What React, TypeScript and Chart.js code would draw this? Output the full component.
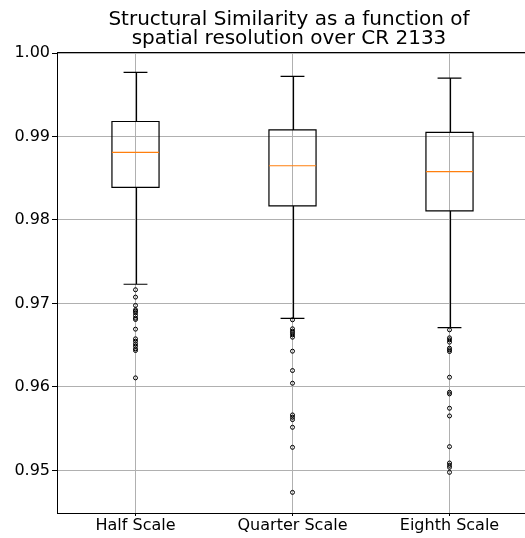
import React, { useEffect, useRef } from "react";
import { Chart, registerables } from "chart.js";

Chart.register(...registerables);

const categories = ["Half Scale", "Quarter Scale", "Eighth Scale"];
const titleLines = ["Structural Similarity as a function of", "spatial resolution over CR 2133"];
const yTicks = [0.95, 0.96, 0.97, 0.98, 0.99, 1.0];

const whiskerHigh = [0.9977, 0.9972, 0.997];
const q3 = [0.9918, 0.9908, 0.9905];
const median = [0.9881, 0.9865, 0.9858];
const q1 = [0.9839, 0.9817, 0.9811];
const whiskerLow = [0.9723, 0.9682, 0.9671];

const outliersHalf = [
  0.97164, 0.97076, 0.96976, 0.96924, 0.96908, 0.96888, 0.96856, 0.96824, 0.96808,
  0.96692, 0.96576, 0.96548, 0.96516, 0.96488, 0.96456, 0.96436, 0.96108,
];
const outliersQuarter = [
  0.96804, 0.96696, 0.96668, 0.96648, 0.96624, 0.96596, 0.96428, 0.96196, 0.96044,
  0.95664, 0.95636, 0.95608, 0.95516, 0.95276, 0.94736,
];
const outliersEighth = [
  0.96684, 0.96588, 0.96564, 0.96536, 0.96464, 0.96444, 0.96424, 0.96116, 0.95936,
  0.95916, 0.95744, 0.95652, 0.95284, 0.95088, 0.9506, 0.95036, 0.94976,
];
const outliers = [outliersHalf, outliersQuarter, outliersEighth];

const FONT = "'DejaVu Sans', sans-serif";

const boxPlugin = {
  id: "boxPlugin",
  beforeDatasetsDraw(chart: any) {
    const { ctx, scales } = chart;
    const xs = scales.x;
    const ys = scales.y;
    const boxHalf = 0.15;
    const capHalf = 0.076;
    ctx.save();
    ctx.lineWidth = 1.2;
    for (let i = 0; i < categories.length; i++) {
      const pos = i + 1;
      const xc = Math.round(xs.getPixelForValue(pos)) + 0.5;
      const xl = xs.getPixelForValue(pos - boxHalf);
      const xr = xs.getPixelForValue(pos + boxHalf);
      const cl = xs.getPixelForValue(pos - capHalf);
      const cr = xs.getPixelForValue(pos + capHalf);
      const yq1 = ys.getPixelForValue(q1[i]);
      const yq3 = ys.getPixelForValue(q3[i]);
      const ymed = ys.getPixelForValue(median[i]);
      const ylo = ys.getPixelForValue(whiskerLow[i]);
      const yhi = ys.getPixelForValue(whiskerHigh[i]);
      ctx.strokeStyle = "#000";
      ctx.beginPath();
      ctx.rect(xl, yq3, xr - xl, yq1 - yq3);
      ctx.moveTo(xc, yq3);
      ctx.lineTo(xc, yhi);
      ctx.moveTo(xc, yq1);
      ctx.lineTo(xc, ylo);
      ctx.moveTo(cl, yhi);
      ctx.lineTo(cr, yhi);
      ctx.moveTo(cl, ylo);
      ctx.lineTo(cr, ylo);
      ctx.stroke();
      ctx.strokeStyle = "#ff7f0e";
      ctx.beginPath();
      ctx.moveTo(xl, ymed);
      ctx.lineTo(xr, ymed);
      ctx.stroke();
    }
    ctx.restore();
  },
  afterDraw(chart: any) {
    const { ctx, chartArea } = chart;
    ctx.save();
    ctx.strokeStyle = "#000";
    ctx.lineWidth = 1;
    ctx.beginPath();
    ctx.moveTo(chartArea.left, Math.round(chartArea.top) + 0.5);
    ctx.lineTo(chartArea.right, Math.round(chartArea.top) + 0.5);
    ctx.stroke();
    ctx.fillStyle = "#000";
    ctx.font = `20px ${FONT}`;
    ctx.textAlign = "center";
    ctx.textBaseline = "alphabetic";
    ctx.fillText(titleLines[0], 289, 25);
    ctx.fillText(titleLines[1], 289, 44);
    ctx.restore();
  },
};

export default function App() {
  const ref = useRef<HTMLCanvasElement>(null);
  useEffect(() => {
    if (!ref.current) return;
    const data = outliers.flatMap((arr, i) => arr.map((v) => ({ x: i + 1, y: v })));
    const chart = new Chart(ref.current, {
      type: "scatter",
      data: {
        datasets: [
          {
            data,
            pointRadius: 2,
            pointBorderWidth: 1,
            pointBorderColor: "#000",
            pointBackgroundColor: "rgba(0,0,0,0)",
            pointHoverRadius: 2,
          },
        ],
      },
      options: {
        animation: false,
        responsive: false,
        events: [],
        layout: { padding: { top: 52, left: 0, right: 0, bottom: 0 } },
        plugins: { legend: { display: false }, tooltip: { enabled: false }, title: { display: false } },
        scales: {
          x: {
            type: "linear",
            min: 0.5,
            max: 3.5,
            afterBuildTicks: (s: any) => {
              s.ticks = categories.map((_, i) => ({ value: i + 1 }));
            },
            afterFit: (s: any) => {
              s.height = 25;
            },
            ticks: {
              callback: (v: any) => categories[Math.round(v) - 1] ?? "",
              color: "#000",
              font: { family: FONT, size: 16 },
              padding: 0,
              maxRotation: 0,
            },
            grid: { color: "#b0b0b0", lineWidth: 1, tickColor: "#000", tickLength: 3, drawTicks: true },
            border: { color: "#000", width: 1 },
          },
          y: {
            type: "linear",
            min: 0.94489,
            max: 1.00013,
            afterBuildTicks: (s: any) => {
              s.ticks = yTicks.map((v) => ({ value: v }));
            },
            afterFit: (s: any) => {
              s.width = 57;
            },
            ticks: {
              callback: (v: any) => Number(v).toFixed(2),
              color: "#000",
              font: { family: FONT, size: 16 },
              padding: 2,
            },
            grid: { color: "#b0b0b0", lineWidth: 1, tickColor: "#000", tickLength: 5, drawTicks: true },
            border: { color: "#000", width: 1 },
          },
        },
      },
      plugins: [boxPlugin],
    });
    return () => chart.destroy();
  }, []);
  return (
    <div style={{ position: "fixed", left: 0, top: 0, width: 525, height: 538, overflow: "hidden", background: "#fff" }}>
      <canvas ref={ref} width={531} height={538} style={{ width: 531, height: 538 }} />
    </div>
  );
}
